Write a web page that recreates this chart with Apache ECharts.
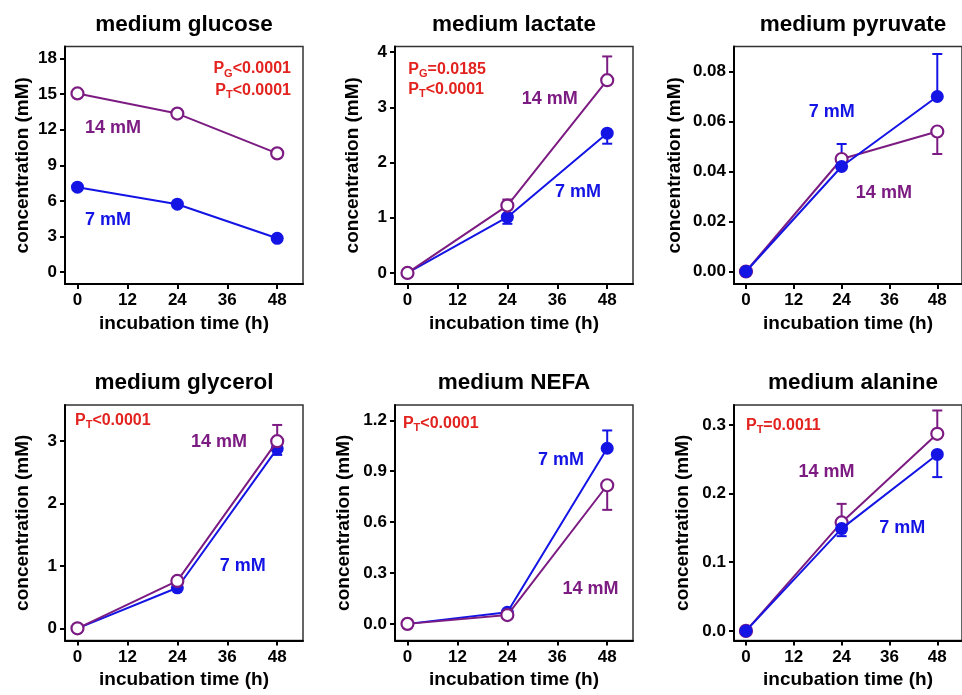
<!DOCTYPE html>
<html>
<head>
<meta charset="utf-8">
<script src="https://cdn.jsdelivr.net/npm/echarts@6/dist/echarts.min.js"></script>
<style>
  html, body { margin: 0; padding: 0; background: #fff; }
  #chart { width: 962px; height: 695px; }
</style>
</head>
<body>
<div id="chart"></div>
<script>
// Sampling times (h) and x-axis ticks
const hours = [0, 24, 48];
const xTicks = [0, 12, 24, 36, 48];

const titles = ['medium glucose', 'medium lactate', 'medium pyruvate',
                'medium glycerol', 'medium NEFA', 'medium alanine'];

// Mean concentrations (mM): 7 mM and 14 mM glucose groups
const glucose7   = [7.15, 5.72, 2.85];
const glucose14  = [15.05, 13.35, 10.0];
const lactate7   = [0, 1.01, 2.53];
const lactate14  = [0, 1.22, 3.49];
const pyruvate7  = [0, 0.042, 0.070];
const pyruvate14 = [0, 0.045, 0.056];
const glycerol7  = [0, 0.65, 2.88];
const glycerol14 = [0, 0.76, 3.00];
const nefa7      = [0, 0.068, 1.035];
const nefa14     = [0, 0.052, 0.817];
const alanine7   = [0, 0.149, 0.257];
const alanine14  = [0, 0.158, 0.287];

// SEM (mM); sign gives the side the one-sided error bar is drawn on
const glucoseErr7   = [0, 0, 0];
const glucoseErr14  = [0, 0, 0];
const lactateErr7   = [0, -0.12, -0.19];
const lactateErr14  = [0, 0.11, 0.43];
const pyruvateErr7  = [0, 0.009, 0.017];
const pyruvateErr14 = [0, 0, -0.009];
const glycerolErr7  = [0, 0, -0.10];
const glycerolErr14 = [0, 0, 0.26];
const nefaErr7      = [0, 0, 0.105];
const nefaErr14     = [0, 0, -0.145];
const alanineErr7   = [0, -0.011, -0.033];
const alanineErr14  = [0, 0.027, 0.034];

// y-axis ticks
const glucoseTicks  = [0, 3, 6, 9, 12, 15, 18];
const lactateTicks  = [0, 1, 2, 3, 4];
const pyruvateTicks = [0, 0.02, 0.04, 0.06, 0.08];
const glycerolTicks = [0, 1, 2, 3];
const nefaTicks     = [0, 0.3, 0.6, 0.9, 1.2];
const alanineTicks  = [0, 0.1, 0.2, 0.3];

// Group labels: [text, x (h), y (mM), style]
const glucoseNotes  = [['14 mM', 1.8, 12.1, 'g14'], ['7 mM', 1.8, 4.4, 'g7']];
const lactateNotes  = [['14 mM', 34.2, 3.14, 'g14c'], ['7 mM', 41.0, 1.47, 'g7c']];
const pyruvateNotes = [['7 mM', 21.5, 0.0639, 'g7c'], ['14 mM', 34.6, 0.0315, 'g14c']];
const glycerolNotes = [['14 mM', 34.0, 2.99, 'g14c'], ['7 mM', 39.7, 1.0, 'g7c']];
const nefaNotes     = [['7 mM', 36.9, 0.968, 'g7c'], ['14 mM', 44.0, 0.208, 'g14c']];
const alanineNotes  = [['14 mM', 20.2, 0.232, 'g14c'], ['7 mM', 39.2, 0.150, 'g7c']];

// Statistics: [subscript, rest of text, x (h), y (mM), alignment]
const glucoseStats  = [['G', '<0.0001', 51.3, 17.1, 'right'], ['T', '<0.0001', 51.3, 15.3, 'right']];
const lactateStats  = [['G', '=0.0185', 0.2, 3.69, 'left'], ['T', '<0.0001', 0.2, 3.32, 'left']];
const pyruvateStats = [];
const glycerolStats = [['T', '<0.0001', -0.6, 3.33, 'left']];
const nefaStats     = [['T', '<0.0001', -1.1, 1.18, 'left']];
const alanineStats  = [['T', '=0.0011', 0.0, 0.2985, 'left']];

const panels = [
  { title: titles[0], m7: glucose7,  m14: glucose14,  e7: glucoseErr7,  e14: glucoseErr14,  ticks: glucoseTicks,  dec: 0, min: -1,     max: 19,    notes: glucoseNotes,  stats: glucoseStats,  openOnTop: true },
  { title: titles[1], m7: lactate7,  m14: lactate14,  e7: lactateErr7,  e14: lactateErr14,  ticks: lactateTicks,  dec: 0, min: -0.2,   max: 4.1,   notes: lactateNotes,  stats: lactateStats,  openOnTop: true },
  { title: titles[2], m7: pyruvate7, m14: pyruvate14, e7: pyruvateErr7, e14: pyruvateErr14, ticks: pyruvateTicks, dec: 2, min: -0.005, max: 0.09,  notes: pyruvateNotes, stats: pyruvateStats, openOnTop: false },
  { title: titles[3], m7: glycerol7, m14: glycerol14, e7: glycerolErr7, e14: glycerolErr14, ticks: glycerolTicks, dec: 0, min: -0.195, max: 3.58,  notes: glycerolNotes, stats: glycerolStats, openOnTop: true },
  { title: titles[4], m7: nefa7,     m14: nefa14,     e7: nefaErr7,     e14: nefaErr14,     ticks: nefaTicks,     dec: 1, min: -0.098, max: 1.29,  notes: nefaNotes,     stats: nefaStats,     openOnTop: true },
  { title: titles[5], m7: alanine7,  m14: alanine14,  e7: alanineErr7,  e14: alanineErr14,  ticks: alanineTicks,  dec: 1, min: -0.014, max: 0.329, notes: alanineNotes,  stats: alanineStats,  openOnTop: false }
];

const FONT = '"Liberation Sans", Arial, Helvetica, sans-serif';
const BLUE = '#1414e4';
const PURPLE = '#7c1c82';
const RED = '#e2231f';

// Panel frames (px)
const colLeft = [65, 395, 734];
const rowTop = [46.5, 405];
const rowHeight = [237.5, 235.5];
const frameWidth = 238;

const measureCtx = document.createElement('canvas').getContext('2d');
function textWidth(text, size) {
  measureCtx.font = 'bold ' + size + 'px ' + FONT;
  return measureCtx.measureText(text).width;
}

const labelStyles = {
  g14:  { fill: PURPLE, align: 'left' },
  g7:   { fill: BLUE, align: 'left' },
  g14c: { fill: PURPLE, align: 'center' },
  g7c:  { fill: BLUE, align: 'center' }
};

const grids = [], xAxes = [], yAxes = [], series = [], graphics = [];

function errorBarSeries(i, means, errs, color, z) {
  return {
    type: 'custom', xAxisIndex: i, yAxisIndex: i, z: z, silent: true,
    data: hours.map((h, k) => [h, means[k], errs[k]]),
    renderItem: function (params, api) {
      const x = api.value(0), y = api.value(1), e = api.value(2);
      if (!e) return null;
      const p0 = api.coord([x, y]);
      const p1 = api.coord([x, y + e]);
      const ls = { stroke: color, lineWidth: 2 };
      return {
        type: 'group',
        children: [
          { type: 'line', shape: { x1: p0[0], y1: p0[1], x2: p1[0], y2: p1[1] }, style: ls },
          { type: 'line', shape: { x1: p1[0] - 5, y1: p1[1], x2: p1[0] + 5, y2: p1[1] }, style: ls }
        ]
      };
    }
  };
}

panels.forEach((p, i) => {
  const col = i % 3, row = Math.floor(i / 3);
  grids.push({
    left: colLeft[col], top: rowTop[row], width: frameWidth, height: rowHeight[row],
    show: true, borderColor: '#333', borderWidth: 1.5, backgroundColor: 'transparent'
  });
  const axisText = { color: '#000', fontWeight: 'bold', fontFamily: FONT };
  xAxes.push({
    gridIndex: i, type: 'value', min: -3, max: 54.2,
    axisLine: { show: true, onZero: false, lineStyle: { color: '#000', width: 2 } },
    axisTick: { show: true, customValues: xTicks, length: 5, lineStyle: { color: '#000', width: 2 } },
    axisLabel: Object.assign({ customValues: xTicks, fontSize: 17, margin: 8 }, axisText),
    splitLine: { show: false },
    name: 'incubation time (h)', nameLocation: 'middle', nameGap: 30,
    nameTextStyle: Object.assign({ fontSize: 19 }, axisText)
  });
  yAxes.push({
    gridIndex: i, type: 'value', min: p.min, max: p.max,
    axisLine: { show: true, onZero: false, lineStyle: { color: '#000', width: 2 } },
    axisTick: { show: true, customValues: p.ticks, length: 5, lineStyle: { color: '#000', width: 2 } },
    axisLabel: Object.assign({ customValues: p.ticks, fontSize: 17, margin: 8,
      formatter: v => Number(v).toFixed(p.dec) }, axisText),
    splitLine: { show: false },
    name: 'concentration (mM)', nameLocation: 'middle', nameGap: p.dec === 2 ? 50 : (p.dec === 1 ? 42 : 33),
    nameTextStyle: Object.assign({ fontSize: 19 }, axisText)
  });

  const zOpen = p.openOnTop ? 5 : 4;
  const zFill = p.openOnTop ? 4 : 5;
  series.push(errorBarSeries(i, p.m7, p.e7, BLUE, 2));
  series.push(errorBarSeries(i, p.m14, p.e14, PURPLE, 2));
  series.push({
    name: '7 mM', type: 'line', xAxisIndex: i, yAxisIndex: i, z: zFill,
    data: hours.map((h, k) => [h, p.m7[k]]),
    symbol: 'circle', symbolSize: 13, showAllSymbol: true,
    lineStyle: { color: BLUE, width: 2 },
    itemStyle: { color: BLUE, borderColor: BLUE, borderWidth: 0 }
  });
  series.push({
    name: '14 mM', type: 'line', xAxisIndex: i, yAxisIndex: i, z: zOpen,
    data: hours.map((h, k) => [h, p.m14[k]]),
    symbol: 'circle', symbolSize: 12, showAllSymbol: true,
    lineStyle: { color: PURPLE, width: 2 },
    itemStyle: { color: '#fff', borderColor: PURPLE, borderWidth: 2.2 }
  });

  // group labels, placed in data coordinates
  series.push({
    type: 'custom', xAxisIndex: i, yAxisIndex: i, z: 6, silent: true,
    data: p.notes.map(n => [n[1], n[2]]),
    renderItem: function (params, api) {
      const n = p.notes[params.dataIndex];
      const st = labelStyles[n[3]];
      const pt = api.coord([api.value(0), api.value(1)]);
      return {
        type: 'text', x: pt[0], y: pt[1],
        style: { text: n[0], fill: st.fill, align: st.align, verticalAlign: 'middle',
                 font: 'bold 18px ' + FONT }
      };
    }
  });

  // P values with subscripts
  if (p.stats.length) {
    series.push({
      type: 'custom', xAxisIndex: i, yAxisIndex: i, z: 6, silent: true,
      data: p.stats.map(s => [s[2], s[3]]),
      renderItem: function (params, api) {
        const s = p.stats[params.dataIndex];
        const pt = api.coord([api.value(0), api.value(1)]);
        const wP = textWidth('P', 16), wSub = textWidth(s[0], 11), wRest = textWidth(s[1], 16);
        let x0 = pt[0];
        if (s[4] === 'right') x0 -= wP + wSub + wRest;
        const base = { fill: RED, align: 'left', verticalAlign: 'middle' };
        return {
          type: 'group',
          children: [
            { type: 'text', x: x0, y: pt[1], style: Object.assign({ text: 'P', font: 'bold 16px ' + FONT }, base) },
            { type: 'text', x: x0 + wP, y: pt[1] + 4.5, style: Object.assign({ text: s[0], font: 'bold 11px ' + FONT }, base) },
            { type: 'text', x: x0 + wP + wSub, y: pt[1], style: Object.assign({ text: s[1], font: 'bold 16px ' + FONT }, base) }
          ]
        };
      }
    });
  }

  graphics.push({
    type: 'text',
    x: colLeft[col] + frameWidth / 2,
    y: row === 0 ? 25 : 383,
    style: { text: p.title, align: 'center', verticalAlign: 'middle',
             font: 'bold 22.5px ' + FONT, fill: '#000' }
  });
});

const chart = echarts.init(document.getElementById('chart'), null, { renderer: 'canvas' });
chart.setOption({
  animation: false,
  backgroundColor: '#fff',
  grid: grids,
  xAxis: xAxes,
  yAxis: yAxes,
  series: series,
  graphic: graphics
});
</script>
</body>
</html>
